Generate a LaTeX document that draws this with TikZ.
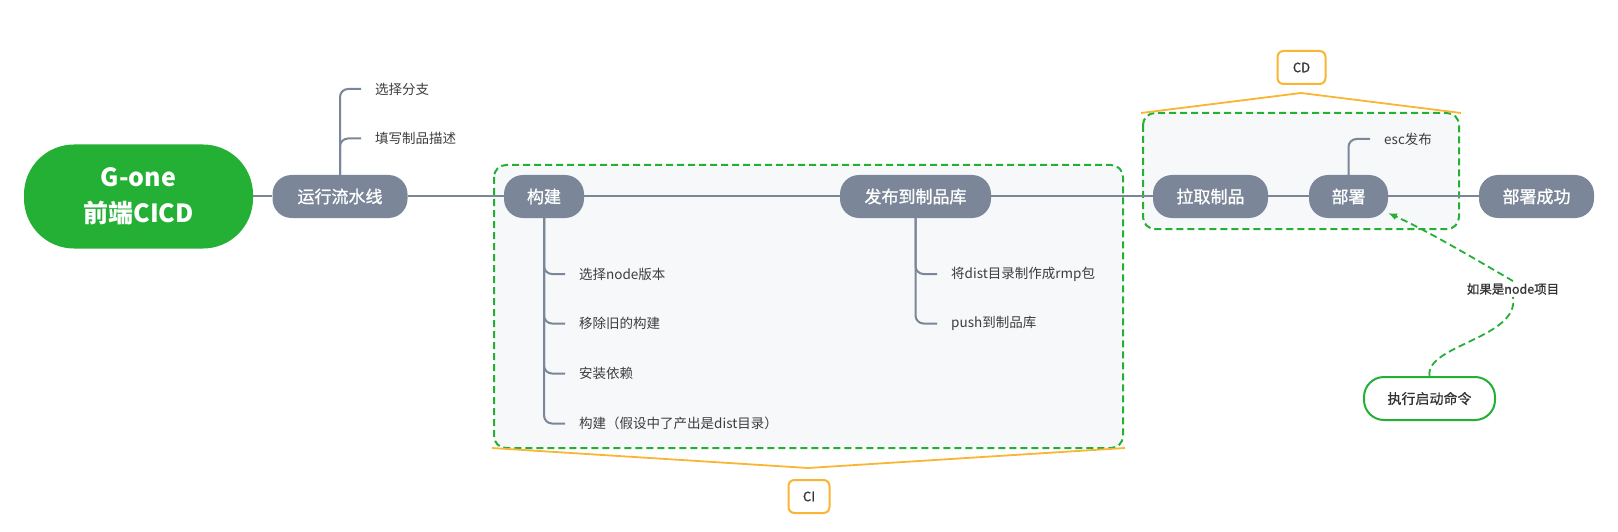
\documentclass[tikz,border=0pt]{standalone}
\usepackage{fontspec}
\setmainfont{Noto Sans CJK SC}
\newfontfamily\medfont[FakeBold=1.2]{Noto Sans CJK SC}
\newfontfamily\semifont[FakeBold=0.8]{Noto Sans CJK SC}
\usetikzlibrary{arrows.meta}
\definecolor{rootgreen}{HTML}{23B034}
\definecolor{pillc}{HTML}{7B8799}
\definecolor{boxfill}{HTML}{F6F8FA}
\definecolor{orangec}{HTML}{FBB534}
\definecolor{txt}{HTML}{333333}
\definecolor{childtxt}{HTML}{3D3D3D}
\begin{document}
\begin{tikzpicture}[x=1pt,y=-1pt,
  pill/.style={rounded corners=19pt, fill=pillc, text=white, minimum height=43pt, inner xsep=2pt, inner ysep=0pt, font=\fontsize{17}{20}\medfont},
  rootbox/.style={rounded corners=50pt, fill=rootgreen, text=white, minimum height=104pt, minimum width=229pt, align=center, font=\fontsize{25}{36}\selectfont\bfseries},
  childtext/.style={anchor=west, inner xsep=14pt, inner ysep=2pt, text=childtxt, font=\fontsize{13.5}{16}\selectfont},
  link/.style={draw=pillc, line width=2pt},
  sublink/.style={draw=pillc, line width=2pt, rounded corners=8pt},
  groupbox/.style={draw=rootgreen, fill=boxfill, line width=2pt, dash pattern=on 7pt off 4pt, rounded corners=12pt},
  bracketline/.style={draw=orangec, line width=1.8pt},
  tagbox/.style={draw=orangec, fill=white, line width=2pt, rounded corners=6pt, minimum height=33pt, text=txt, font=\fontsize{13}{15}\semifont},
  execbox/.style={draw=rootgreen, fill=white, line width=2pt, rounded corners=20pt, minimum height=43pt, minimum width=131pt, text=txt, font=\fontsize{14}{16}\semifont},
  greenarrow/.style={draw=rootgreen, line width=1.8pt, dash pattern=on 7pt off 4pt},
  condlabel/.style={text=txt, inner sep=2pt, font=\fontsize{12.5}{14}\semifont}
]
\useasboundingbox[fill=white] (0,0) rectangle (1618,532);

% group boxes
\path[groupbox] (494,165) rectangle (1123,448);
\path[groupbox] (1143,113) rectangle (1459,229);

% brackets
\path[bracketline] (492,448) -- (808,468) -- (1125,448);
\path[bracketline] (1141,113) -- (1301,93) -- (1461,113);
\node[tagbox, minimum width=41pt] (ci) at (809,496.5) {CI};
\node[tagbox, minimum width=48pt] (cd) at (1301.5,67.5) {CD};

% main nodes
\node[rootbox] (root) at (138.5,196.5) {G-one\\前端CICD};
\node[pill, minimum width=135pt] (run) at (340,196.5) {运行流水线};
\node[pill, minimum width=80pt] (build) at (544,196.5) {构建};
\node[pill, minimum width=151pt] (pub) at (915.5,196.5) {发布到制品库};
\node[pill, minimum width=115pt] (pull) at (1210.5,196.5) {拉取制品};
\node[pill, minimum width=79pt] (deploy) at (1348.5,196.5) {部署};
\node[pill, minimum width=115pt] (done) at (1536.5,196.5) {部署成功};

% main links
\path[link] (root.east) -- (run.west);
\path[link] (run.east) -- (build.west);
\path[link] (build.east) -- (pub.west);
\path[link] (pub.east) -- (pull.west);
\path[link] (pull.east) -- (deploy.west);
\path[link] (deploy.east) -- (done.west);

% children of run
\node[childtext] (r1) at (361,89) {选择分支};
\node[childtext] (r2) at (361,138.5) {填写制品描述};
\path[sublink] (run.north) |- (r1.west);
\path[sublink] (run.north) |- (r2.west);

% children of build
\node[childtext] (b1) at (565,274) {选择node版本};
\node[childtext] (b2) at (565,323.5) {移除旧的构建};
\node[childtext] (b3) at (565,373.5) {安装依赖};
\node[childtext] (b4) at (565,423.5) {构建（假设中了产出是dist目录）};
\path[sublink] (build.south) |- (b1.west);
\path[sublink] (build.south) |- (b2.west);
\path[sublink] (build.south) |- (b3.west);
\path[sublink] (build.south) |- (b4.west);

% children of pub
\node[childtext] (p1) at (937,274) {将dist目录制作成rmp包};
\node[childtext] (p2) at (937,323.5) {push到制品库};
\path[sublink] (pub.south) |- (p1.west);
\path[sublink] (pub.south) |- (p2.west);

% child of deploy
\node[childtext] (d1) at (1370,139) {esc发布};
\path[sublink] (deploy.north) |- (d1.west);

% exec command and conditional arrow
\node[execbox] (exec) at (1429.5,398.5) {执行启动命令};
\node[condlabel] (cond) at (1513,289) {如果是node项目};
\coordinate (tip) at (1388,213);
\path[greenarrow] (exec.north) .. controls (1425,345) and (1520,338) .. (cond.south);
\draw[greenarrow, -{Latex[length=9pt,width=7pt]}] (cond.north) .. controls (1480,262) and (1430,232) .. (tip);
\end{tikzpicture}
\end{document}
